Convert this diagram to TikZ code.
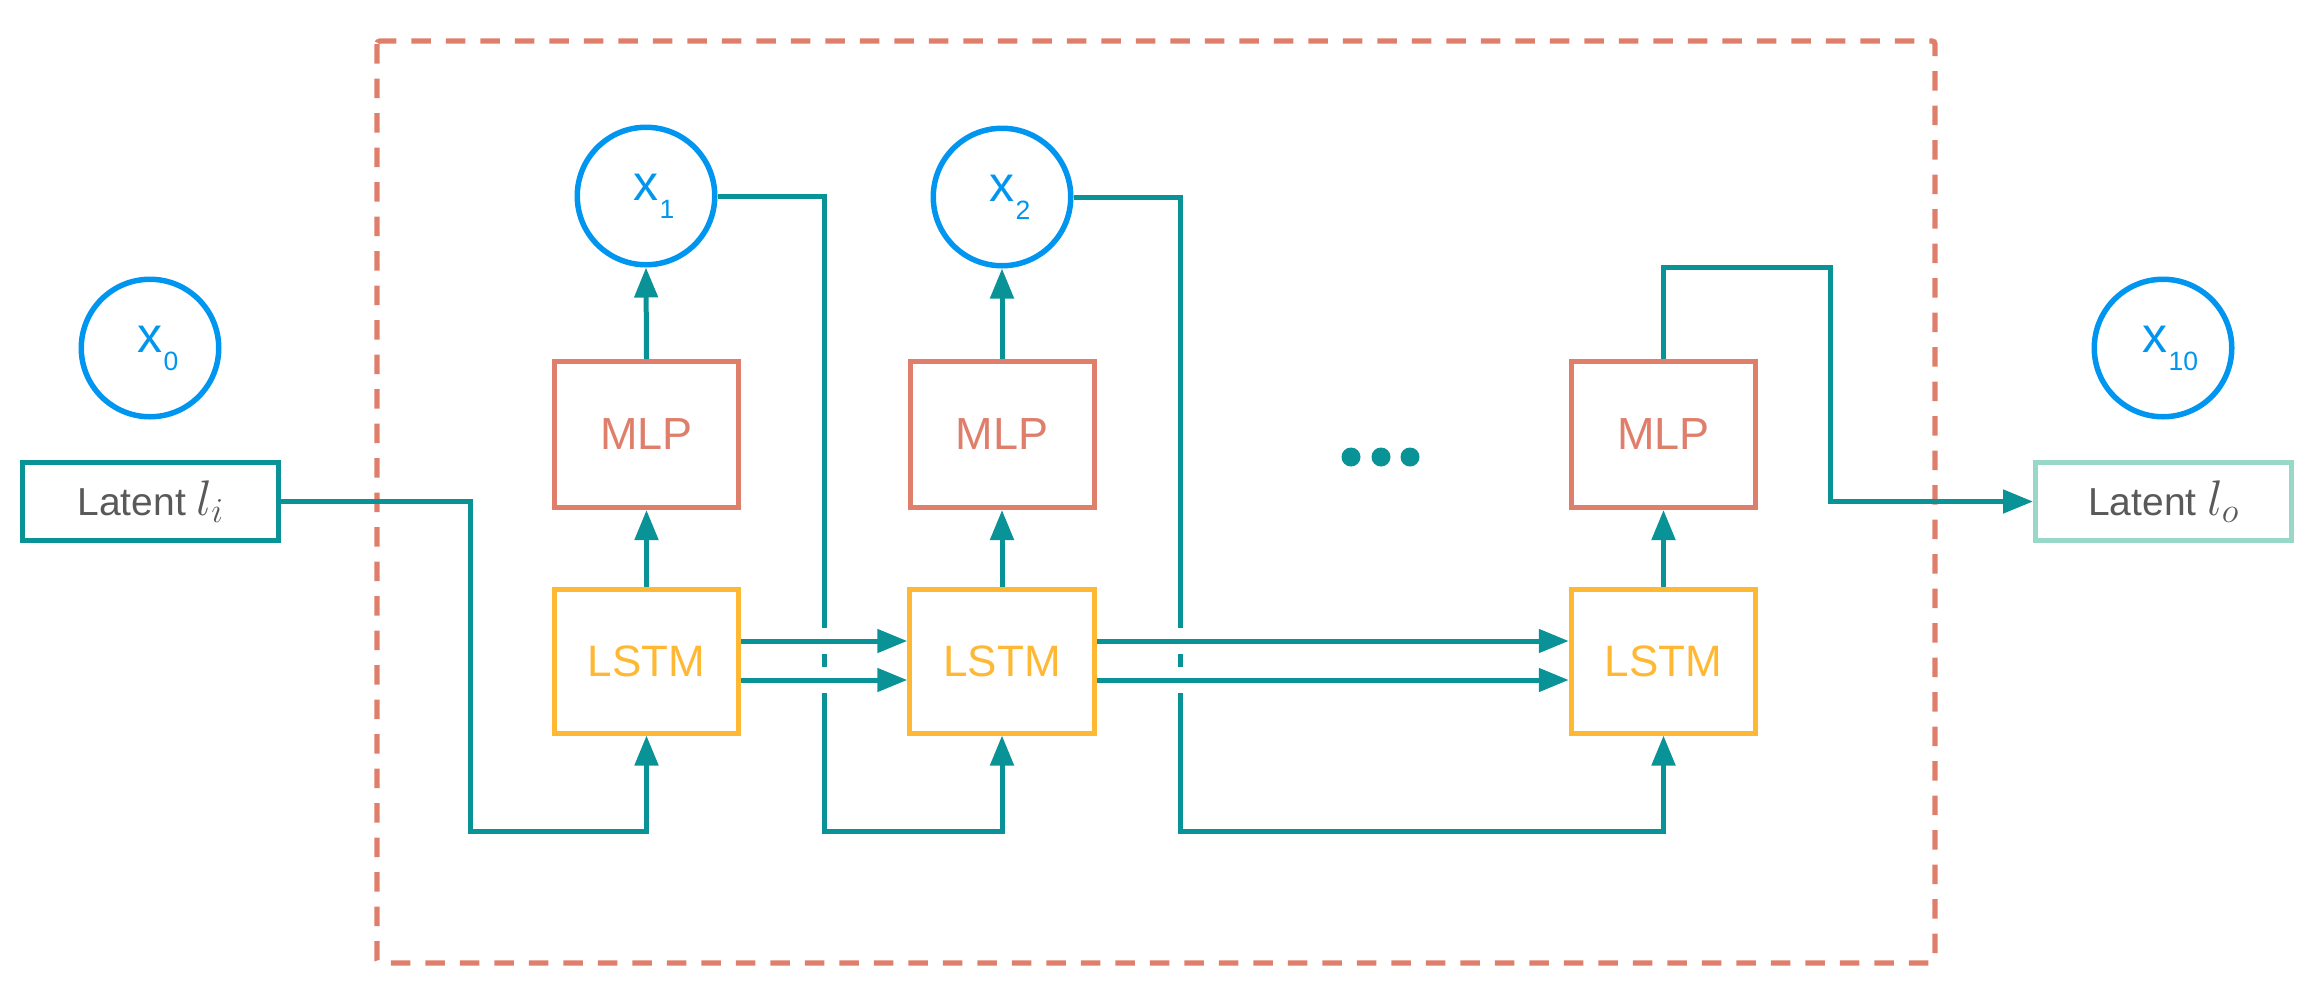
\RequirePackage{fix-cm}
\documentclass[tikz,border=0pt]{standalone}
\usepackage{fontspec}
\setmainfont{Liberation Sans}
\usetikzlibrary{arrows.meta}
\definecolor{teal1}{RGB}{10,147,150}
\definecolor{blue1}{RGB}{0,150,240}
\definecolor{salmon1}{RGB}{224,126,108}
\definecolor{amber1}{RGB}{255,184,51}
\definecolor{mint1}{RGB}{152,216,200}
\definecolor{grey1}{RGB}{89,89,89}
\newcommand{\xsubscr}[1]{\rlap{\hspace{1pt}\raisebox{-18pt}{\fontsize{26.5}{27}\selectfont #1}}}
\begin{document}
\begin{tikzpicture}[x=1pt,y=-1pt,
  circ/.style={circle, draw=blue1, line width=5.5pt, minimum size=137.5pt, inner sep=0pt, text=blue1, font=\fontsize{50}{50}\selectfont},
  mlpbox/.style={rectangle, draw=salmon1, line width=5pt, minimum width=184pt, minimum height=146pt, inner sep=0pt, text=salmon1, font=\fontsize{45}{54}\selectfont},
  lstmbox/.style={rectangle, draw=amber1, line width=5pt, minimum width=184.5pt, minimum height=144pt, inner sep=0pt, text=amber1, font=\fontsize{44}{54}\selectfont},
  latent/.style={rectangle, line width=5pt, minimum width=256pt, minimum height=78pt, inner sep=0pt, text=grey1, font=\fontsize{39}{47}\selectfont},
  conn/.style={draw=teal1, line width=5pt},
  arr/.style={conn, -{Triangle[length=30pt,width=23pt]}},
  gapped/.style={preaction={draw=white, line width=26pt, shorten <=40pt, shorten >=40pt}},
  dot/.style={circle, fill=teal1, minimum size=19pt, inner sep=0pt}
]
\useasboundingbox (0,0) rectangle (2319,1005);

% frame
\draw[salmon1, line width=5.3pt, dash pattern=on 19.5pt off 15pt, rounded corners=3pt] (377,41) rectangle (1935,963);

% nodes
\node[circ] (x0) at (150,348) {x\xsubscr{0}};
\node[circ] (x1) at (646,196) {x\xsubscr{1}};
\node[circ] (x2) at (1002,197) {x\xsubscr{2}};
\node[circ] (x10) at (2163,348) {\hspace*{-16pt}x\xsubscr{10}};

\node[latent, draw=teal1] (li) at (150.5,501.5) {Latent {\fontsize{50}{60}\selectfont$l_i$}};
\node[latent, draw=mint1] (lo) at (2163.5,501.5) {Latent {\fontsize{50}{60}\selectfont$l_o$}};

\node[mlpbox] (mlp1) at (646.5,434.5) {MLP};
\node[mlpbox] (mlp2) at (1002,434.5) {MLP};
\node[mlpbox] (mlp3) at (1663.5,434.5) {MLP};

\node[lstmbox] (lstm1) at (646.5,661) {LSTM};
\node[lstmbox] (lstm2) at (1002,661) {LSTM};
\node[lstmbox] (lstm3) at (1663.5,661) {LSTM};

\node[dot] (d1) at (1351,457) {};
\node[dot] (d2) at (1381,457) {};
\node[dot] (d3) at (1410,457) {};

% turning points
\coordinate (t1) at (470,831);
\coordinate (t2) at (824,831);
\coordinate (t3) at (1180,831);
\coordinate (t4) at (1830,267);

% connectors
\draw[arr] (li.east) -| (t1) -| (lstm1.south);
\draw[arr] (x1.east) -| (t2) -| (lstm2.south);
\draw[arr] (x2.east) -| (t3) -| (lstm3.south);
\draw[arr] (mlp3.north) |- (t4) |- (lo.west);

\draw[arr] (lstm1.north) -- (mlp1.south);
\draw[arr] (lstm2.north) -- (mlp2.south);
\draw[arr] (lstm3.north) -- (mlp3.south);
\draw[arr] (mlp1.north) -- (x1.south);
\draw[arr] (mlp2.north) -- (x2.south);

\draw[arr, gapped] ([yshift=20pt]lstm1.east) -- ([yshift=20pt]lstm2.west);
\draw[arr, gapped] ([yshift=-19pt]lstm1.east) -- ([yshift=-19pt]lstm2.west);
\draw[arr, gapped] ([yshift=20pt]lstm2.east) -- ([yshift=20pt]lstm3.west);
\draw[arr, gapped] ([yshift=-19pt]lstm2.east) -- ([yshift=-19pt]lstm3.west);
\end{tikzpicture}
\end{document}
